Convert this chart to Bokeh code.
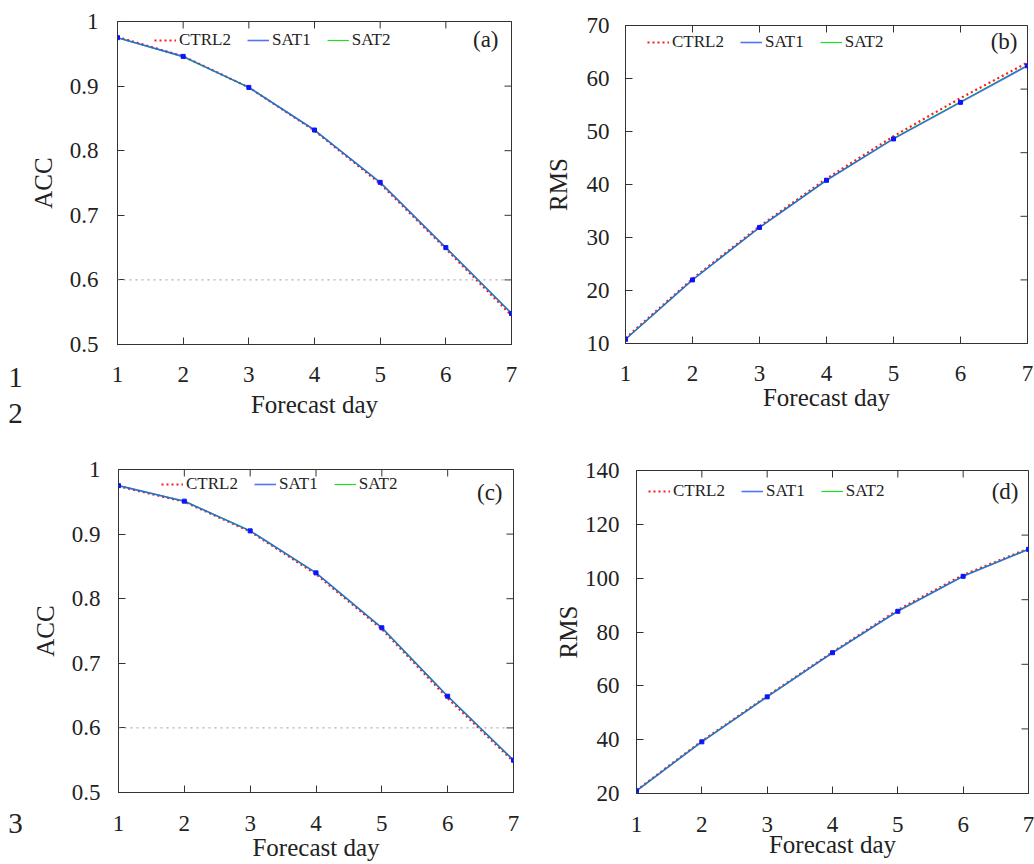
import math
from bokeh.plotting import figure
from bokeh.layouts import row, column
from bokeh.core.properties import value
from bokeh.models import (Range1d, FixedTicker, CustomJSTickFormatter,
                          Span, Label, Legend, LegendItem)
from bokeh.embed import file_html
from bokeh.resources import INLINE

# ---------------- data ----------------
days = [1, 2, 3, 4, 5, 6, 7]

a_ctrl2 = [0.976, 0.946, 0.898, 0.831, 0.749, 0.648, 0.545]
a_sat1 = [0.975, 0.946, 0.898, 0.832, 0.751, 0.650, 0.548]
a_sat2 = [0.975, 0.945, 0.898, 0.832, 0.751, 0.650, 0.548]

b_ctrl2 = [11.0, 22.2, 32.1, 41.1, 49.1, 56.3, 63.0]
b_sat1 = [10.8, 22.0, 31.9, 40.8, 48.6, 55.5, 62.4]
b_sat2 = [10.8, 22.0, 31.9, 40.8, 48.7, 55.6, 62.5]

c_ctrl2 = [0.974, 0.950, 0.904, 0.838, 0.753, 0.646, 0.548]
c_sat1 = [0.975, 0.951, 0.905, 0.840, 0.755, 0.649, 0.550]
c_sat2 = [0.975, 0.951, 0.905, 0.840, 0.755, 0.649, 0.550]

d_ctrl2 = [21.2, 39.5, 56.2, 72.5, 88.2, 101.2, 111.0]
d_sat1 = [21.0, 39.2, 55.9, 72.3, 87.7, 100.7, 110.7]
d_sat2 = [21.0, 39.3, 56.0, 72.3, 87.8, 100.8, 110.8]

acc_ticks = [0.5, 0.6, 0.7, 0.8, 0.9, 1.0]
rms_b_ticks = [10, 20, 30, 40, 50, 60, 70]
rms_b_right = [22, 34, 46, 58]
rms_d_ticks = [20, 40, 60, 80, 100, 120, 140]
rms_d_right = [44, 68, 92, 116]

line_numbers_top = ["1", "2"]
line_numbers_bottom = ["3"]

FONT = "Liberation Serif"
TXT = "#222222"
FRAME = "#333333"


def make_panel(cfg):
    ymin, ymax = cfg["yr"]
    p = figure(width=cfg["w"], height=cfg["h"],
               x_range=Range1d(1, 7), y_range=Range1d(ymin, ymax),
               output_backend="svg", toolbar_location=None,
               min_border_left=cfg["bl"], min_border_right=cfg["br"],
               min_border_top=cfg["bt"], min_border_bottom=cfg["bb"],
               background_fill_color="white", border_fill_color="white")
    p.frame_align = False
    p.xgrid.grid_line_color = None
    p.ygrid.grid_line_color = None
    p.outline_line_color = FRAME
    p.outline_line_width = 1

    fmt = CustomJSTickFormatter(code="return String(Math.round(tick*10)/10);")
    for ax in (p.xaxis[0], p.yaxis[0]):
        ax.major_tick_in = 7
        ax.major_tick_out = 0
        ax.minor_tick_line_color = None
        ax.axis_line_color = FRAME
        ax.major_tick_line_color = FRAME
        ax.major_label_text_font = FONT
        ax.major_label_text_font_size = "23px"
        ax.major_label_text_color = TXT
        ax.axis_label_text_font = FONT
        ax.axis_label_text_font_size = "25px"
        ax.axis_label_text_font_style = "normal"
        ax.axis_label_text_color = TXT
        ax.formatter = fmt
    p.xaxis[0].ticker = FixedTicker(ticks=days)
    p.yaxis[0].ticker = FixedTicker(ticks=cfg["yt"])
    p.xaxis[0].axis_label = "Forecast day"
    p.yaxis[0].axis_label = cfg["ylabel"]
    p.xaxis[0].major_label_standoff = cfg["xls"]
    p.xaxis[0].axis_label_standoff = cfg["xas"]
    p.yaxis[0].major_label_standoff = cfg["yls"]
    p.yaxis[0].axis_label_standoff = cfg["yas"]

    # inward ticks on the top and right frame edges (half of each dash is clipped by the frame)
    p.scatter(days, [ymax] * len(days), marker="dash", size=14, angle=math.pi / 2,
              line_color=FRAME, line_width=1)
    p.scatter([7] * len(cfg["rt"]), cfg["rt"], marker="dash", size=14,
              line_color=FRAME, line_width=1)

    if cfg["ref"]:
        p.add_layout(Span(location=0.6, dimension="width", line_color="#9a9a9a",
                          line_dash="2 4", line_width=1))

    r_c = p.line(days, cfg["ctrl2"], line_color="#ff1a1a", line_width=2.2, line_dash="2 3")
    r_s2 = p.line(days, cfg["sat2"], line_color="#22dd22", line_width=1.2)
    r_s1 = p.line(days, cfg["sat1"], line_color="#2255f5", line_width=1.6, line_alpha=0.8)
    p.scatter(days, cfg["sat1"], marker="square", size=4, color="#0a14ff")

    leg = Legend(items=[LegendItem(label="CTRL2", renderers=[r_c]),
                        LegendItem(label="SAT1", renderers=[r_s1]),
                        LegendItem(label="SAT2", renderers=[r_s2])],
                 orientation="horizontal", location=cfg["leg"],
                 glyph_width=22, glyph_height=20, label_height=20,
                 label_standoff=3, spacing=16, padding=0, margin=0,
                 border_line_color=None, background_fill_alpha=0,
                 label_text_font=FONT, label_text_font_size="17px",
                 label_text_color=TXT)
    p.add_layout(leg)

    fw = cfg["w"] - cfg["bl"] - cfg["br"]
    fh = cfg["h"] - cfg["bt"] - cfg["bb"]
    dx = 6.0 / fw
    dy = (ymax - ymin) / fh
    lx, ly = cfg["lab_off"]
    p.add_layout(Label(x=7 - lx * dx, y=ymax - ly * dy, text=cfg["tag"],
                       text_align="right", text_baseline="middle",
                       text_font=FONT, text_font_size="23px", text_color=TXT))
    return p


def make_margin(height, labels, ys):
    m = figure(width=26, height=height, x_range=Range1d(0, 26), y_range=Range1d(height, 0),
               output_backend="svg", toolbar_location=None,
               x_axis_type=None, y_axis_type=None,
               min_border_left=0, min_border_right=0, min_border_top=0, min_border_bottom=0,
               background_fill_color="white", border_fill_color="white")
    m.frame_align = False
    m.outline_line_color = None
    m.grid.grid_line_color = None
    m.text(x=[15] * len(labels), y=ys, text=labels, text_align="center",
           text_baseline="middle", text_font=value(FONT),
           text_font_size=value("29px"), text_color=TXT)
    return m


pa = make_panel(dict(w=494, h=430, bl=90, br=9, bt=21, bb=86, yr=(0.5, 1.0), yt=acc_ticks,
                     rt=acc_ticks, ylabel="ACC", ctrl2=a_ctrl2, sat1=a_sat1, sat2=a_sat2,
                     ref=True, leg=(37, 294), tag="(a)", lab_off=(13, 18),
                     xls=22, xas=6, yls=19, yas=10))
pb = make_panel(dict(w=514, h=430, bl=105, br=7, bt=25, bb=87, yr=(10, 70), yt=rms_b_ticks,
                     rt=rms_b_right, ylabel="RMS", ctrl2=b_ctrl2, sat1=b_sat1, sat2=b_sat2,
                     ref=False, leg=(22, 291), tag="(b)", lab_off=(10, 16),
                     xls=22, xas=0, yls=16, yas=12))
pc = make_panel(dict(w=494, h=434, bl=92, br=7, bt=39, bb=72, yr=(0.5, 1.0), yt=acc_ticks,
                     rt=acc_ticks, ylabel="ACC", ctrl2=c_ctrl2, sat1=c_sat1, sat2=c_sat2,
                     ref=True, leg=(43, 298), tag="(c)", lab_off=(11, 23),
                     xls=23, xas=0, yls=18, yas=10))
pd_ = make_panel(dict(w=514, h=434, bl=116, br=6, bt=40, bb=71, yr=(20, 140), yt=rms_d_ticks,
                      rt=rms_d_right, ylabel="RMS", ctrl2=d_ctrl2, sat1=d_sat1, sat2=d_sat2,
                      ref=False, leg=(12, 292), tag="(d)", lab_off=(10, 21),
                      xls=23, xas=-4, yls=17, yas=0))

ma = make_margin(430, line_numbers_top, [377, 413])
mc = make_margin(434, line_numbers_bottom, [393])

layout = column(row(ma, pa, pb), row(mc, pc, pd_))
open("out.html", "w").write(file_html(layout, INLINE))
